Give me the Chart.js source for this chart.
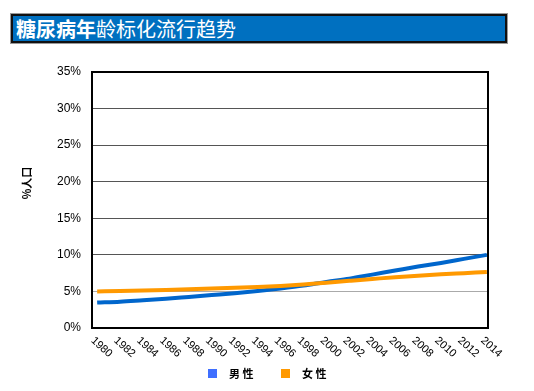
<!DOCTYPE html>
<html>
<head>
<meta charset="utf-8">
<script src="https://cdn.jsdelivr.net/npm/chart.js@4"></script>
<style>
	html, body { margin: 0; padding: 0; background: #fff; }
	#wrap { position: relative; width: 534px; height: 391px; }
	#chart { position: absolute; left: 0; top: 0; }
	.title-bar {
		position: absolute; left: 11px; top: 14px; width: 496px; height: 29px;
		box-sizing: border-box; background: #0070c0; border: 2px solid #111;
		outline: 1px solid #999;
		color: #fff; font: 20px "Noto Sans CJK SC", sans-serif; line-height: 25px;
		padding-left: 3px; white-space: nowrap;
	}
	.title-bar b { font-weight: 700; }
</style>
</head>
<body>
<div id="wrap">
	<canvas id="chart" width="534" height="391"></canvas>
	<div class="title-bar"><b>糖尿病年</b>龄标化流行趋势</div>
</div>
<script>
// --- Dữ liệu ---
const years = [1980, 1982, 1984, 1986, 1988, 1990, 1992, 1994, 1996, 1998, 2000, 2002, 2004, 2006, 2008, 2010, 2012, 2014];
const male = [3.47, 3.6, 3.8, 4.0, 4.25, 4.5, 4.75, 5.05, 5.4, 5.8, 6.3, 6.75, 7.3, 7.85, 8.4, 8.9, 9.45, 10.0];
const female = [5.0, 5.05, 5.12, 5.2, 5.3, 5.4, 5.5, 5.6, 5.75, 5.95, 6.2, 6.45, 6.7, 6.95, 7.15, 7.35, 7.5, 7.65];
const seriesNames = ["男性", "女性"];
const lineColors = ["#0066cc", "#ff9900"];
const legendColors = ["#3f6fff", "#ff9900"];
const yTicks = [0, 5, 10, 15, 20, 25, 30, 35];
const yTitle = "%人口";

const FONT = "Arial, 'Liberation Sans', sans-serif";
const CJK = "'Noto Sans CJK SC', sans-serif";

// khung + nhãn trục x xoay + tiêu đề trục y + chú thích
const extras = {
	id: "extras",
	afterDraw(chart) {
		const { ctx, chartArea: a, scales: { x } } = chart;
		ctx.save();
		ctx.strokeStyle = "#000"; ctx.lineWidth = 2;
		ctx.strokeRect(a.left, a.top, a.right - a.left, a.bottom - a.top);

		ctx.fillStyle = "#000";
		ctx.font = "11px " + FONT;
		ctx.textAlign = "left"; ctx.textBaseline = "top";
		years.forEach(y => {
			ctx.save();
			ctx.translate(x.getPixelForValue(y) - 1, a.bottom + 7);
			ctx.rotate(42 * Math.PI / 180);
			ctx.fillText(String(y), 0, 0);
			ctx.restore();
		});

		// tiêu đề trục y
		ctx.save();
		ctx.font = "bold 11px " + CJK;
		ctx.textAlign = "center"; ctx.textBaseline = "middle";
		ctx.translate(27, 183);
		ctx.rotate(-Math.PI / 2);
		ctx.fillText(yTitle, 0, 0);
		ctx.restore();

		// legend
		ctx.font = "bold 11px " + CJK;
		ctx.textAlign = "left"; ctx.textBaseline = "middle";
		const cy = 374;
		let lx = 208;
		seriesNames.forEach((n, i) => {
			ctx.fillStyle = legendColors[i];
			ctx.fillRect(lx, cy - 5, 9, 9);
			ctx.fillStyle = "#000";
			ctx.fillText(n.split("").join(" "), lx + 21, cy);
			lx += 73;
		});
		ctx.restore();
	}
};

new Chart(document.getElementById("chart").getContext("2d"), {
	type: "line",
	data: {
		datasets: [male, female].map((d, i) => ({
			label: seriesNames[i],
			data: d.map((v, j) => ({ x: years[j], y: v })),
			borderColor: lineColors[i],
			backgroundColor: lineColors[i],
			borderWidth: 4,
			pointRadius: 0,
			tension: 0.4,
			cubicInterpolationMode: "monotone",
			fill: false
		})).reverse()
	},
	options: {
		responsive: false, animation: false,
		layout: { padding: { top: 72, right: 46, bottom: 0, left: 0 } },
		plugins: { legend: { display: false }, tooltip: { enabled: false } },
		scales: {
			x: {
				type: "linear", min: 1979.55, max: 2014.1,
				ticks: { display: false },
				grid: { display: false },
				border: { display: false },
				afterFit: (s) => { s.height = 63; }
			},
			y: {
				min: 0, max: 35,
				afterBuildTicks: (s) => { s.ticks = yTicks.map(v => ({ value: v })); },
				ticks: { color: "#000", font: { size: 12, family: FONT }, padding: 11, callback: (v) => v + "%" },
				grid: { drawTicks: false, lineWidth: 1, color: (c) => c.tick && c.tick.value === 5 ? "#aaa" : "#555" },
				border: { display: false },
				afterFit: (s) => { s.width = 92; }
			}
		}
	},
	plugins: [extras]
});
</script>
</body>
</html>
